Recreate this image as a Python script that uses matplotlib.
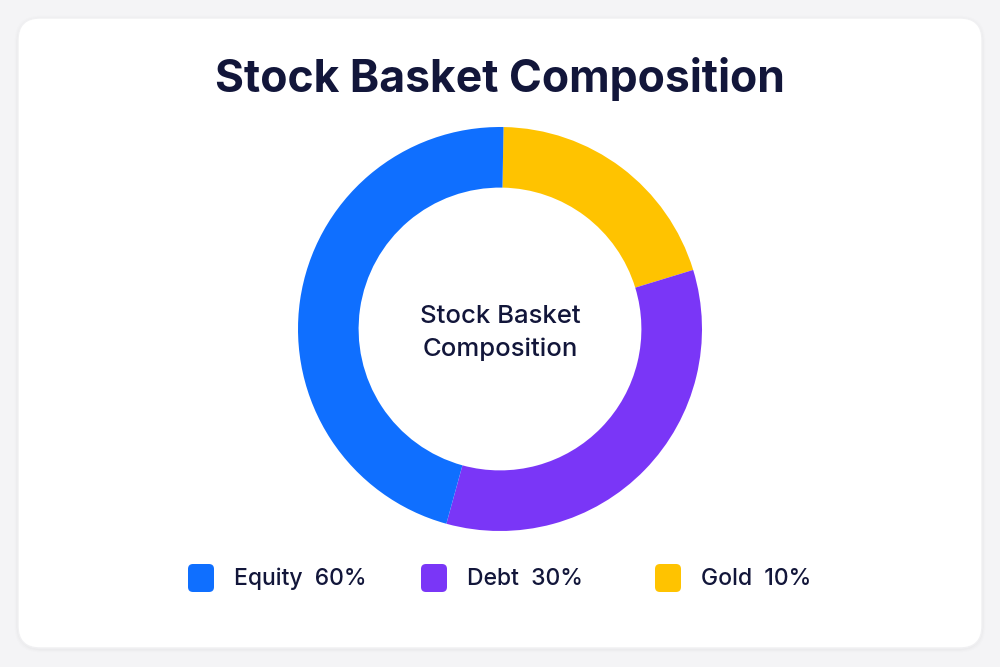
import matplotlib
matplotlib.use("Agg")
import matplotlib.pyplot as plt
from matplotlib.patches import FancyBboxPatch

# ---- data ----
title = "Stock Basket Composition"
center_label = "Stock Basket\nComposition"
categories = ["Equity", "Debt", "Gold"]
legend_pct = ["60%", "30%", "10%"]
# arc sizes as drawn in the reference (clockwise from top: Gold, Debt, Equity)
arc_values = [46, 34, 20]
colors = ["#0F6FFF", "#7A36F7", "#FFC300"]
text_color = "#12163A"

W, H = 1000, 667
fig = plt.figure(figsize=(W / 100, H / 100), dpi=100)
fig.patch.set_facecolor("#F4F4F6")

bg = fig.add_axes([0, 0, 1, 1])
bg.set_xlim(0, W)
bg.set_ylim(H, 0)
bg.axis("off")

# card with soft shadow
for i, a in enumerate([0.018, 0.012, 0.008]):
    s = FancyBboxPatch((18 - i, 19 - i), 964 + 2 * i, 630 + 2 * i,
                       boxstyle="round,pad=0,rounding_size=24",
                       facecolor="none", edgecolor=(0, 0, 0, a), linewidth=2)
    bg.add_patch(s)
card = FancyBboxPatch((18, 18), 964, 630, boxstyle="round,pad=0,rounding_size=22",
                      facecolor="white", edgecolor="#F0F0F2", linewidth=1)
bg.add_patch(card)

bg.text(W / 2, 79, title, ha="center", va="center", fontsize=32,
        fontweight="bold", family="Inter", color=text_color)

# donut
cx, cy, r = 500, 329, 202
pax = fig.add_axes([(cx - r) / W, (H - cy - r) / H, 2 * r / W, 2 * r / H])
order = [2, 1, 0]  # Gold, Debt, Equity clockwise from top
pax.pie([arc_values[i] for i in order], colors=[colors[i] for i in order],
        startangle=89, counterclock=False, radius=1.0,
        wedgeprops=dict(width=0.30, edgecolor="none", linewidth=0))
pax.set_xlim(-1, 1)
pax.set_ylim(-1, 1)
pax.set_aspect("equal")
pax.axis("off")
pax.text(0, -0.02, center_label, ha="center", va="center", fontsize=18.5,
         fontweight="medium", family="Inter", color=text_color, linespacing=1.55)

# legend
sq_x = [188, 421, 655]
for i, (cat, pct) in enumerate(zip(categories, legend_pct)):
    x = sq_x[i]
    sq = FancyBboxPatch((x, 564), 26, 28, boxstyle="round,pad=0,rounding_size=5",
                        facecolor=colors[i], edgecolor="none")
    bg.add_patch(sq)
    bg.text(x + 46, 579, f"{cat}  {pct}", ha="left", va="center", fontsize=16.5,
            fontweight="medium", family="Inter", color=text_color)

fig.savefig("out.png", dpi=100, facecolor=fig.get_facecolor())
